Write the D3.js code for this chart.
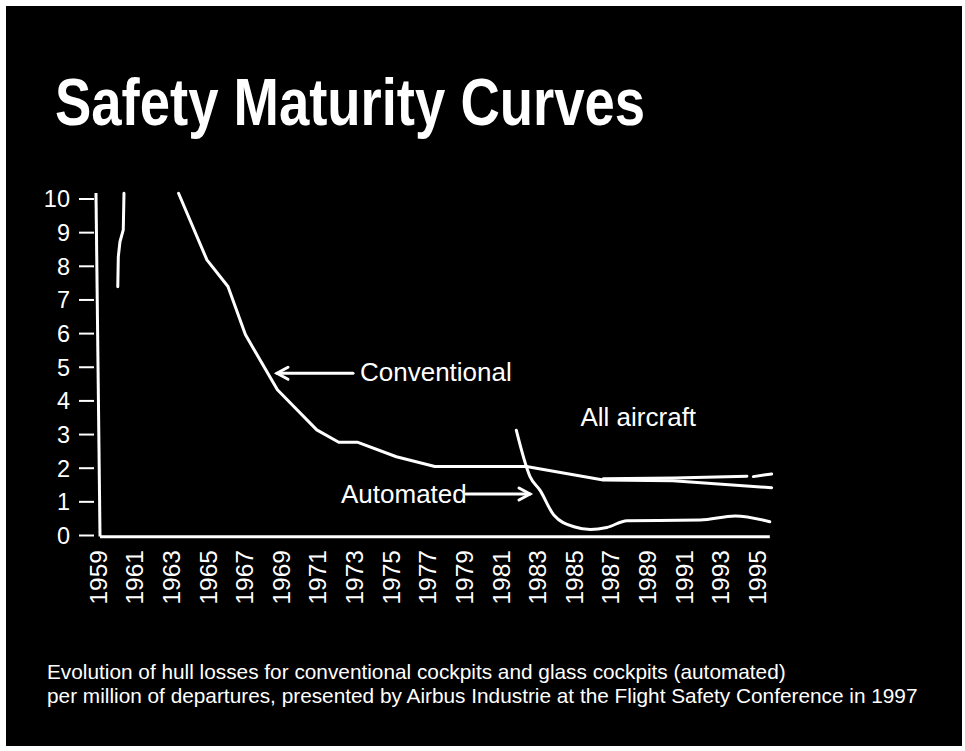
<!DOCTYPE html>
<html>
<head>
<meta charset="utf-8">
<script src="https://cdn.jsdelivr.net/npm/d3@7"></script>
<style>
  html, body { margin: 0; padding: 0; background: #ffffff; }
  svg { display: block; }
  text { fill: #ffffff; font-family: "Liberation Sans", Arial, sans-serif; }
</style>
</head>
<body>
<svg id="chart" width="965" height="751"></svg>
<script>
// ---- data ----
const xTickYears = [1959,1961,1963,1965,1967,1969,1971,1973,1975,1977,1979,1981,1983,1985,1987,1989,1991,1993,1995];
const yTickValues = [0,1,2,3,4,5,6,7,8,9,10];

const earlyYears  = [1960.08, 1960.11, 1960.2, 1960.38, 1960.42];
const earlyValues = [7.39, 8.29, 8.73, 9.08, 10.17];

const conventionalYears  = [1963.4, 1964.95, 1966.1, 1967.05, 1968.8, 1970.95, 1972.15, 1973.2, 1975.3, 1977.4, 1982.4, 1986.6, 1990.4, 1995.8];
const conventionalValues = [10.17, 8.19, 7.4, 5.97, 4.33, 3.14, 2.77, 2.77, 2.34, 2.05, 2.05, 1.65, 1.63, 1.42];

const automatedYears  = [1981.85, 1982.6, 1983.15, 1983.9, 1985.0, 1985.9, 1986.8, 1987.9, 1991.9, 1993.8, 1995.7];
const automatedValues = [3.13, 1.75, 1.34, 0.61, 0.26, 0.18, 0.24, 0.44, 0.46, 0.58, 0.41];

const allAircraftYears  = [1986.6, 1990.5, 1994.45, 1994.6, 1994.8, 1995.8];
const allAircraftValues = [1.69, 1.71, 1.76, NaN, 1.75, 1.83];

const titleText = "Safety Maturity Curves";
const captionLines = [
  "Evolution of hull losses for conventional cockpits and glass cockpits (automated)",
  "per million of departures, presented by Airbus Industrie at the Flight Safety Conference in 1997"
];

// ---- layout ----
const svg = d3.select("#chart");
svg.append("rect").attr("x", 6).attr("y", 6).attr("width", 956).attr("height", 740).attr("fill", "#000");

const x = d3.scaleLinear().domain([1959, 1995]).range([98, 757]);
const y = d3.scaleLinear().domain([0, 10]).range([535.5, 199]);

// title
svg.append("text")
  .attr("x", 55).attr("y", 125)
  .style("font-family", "'Liberation Sans Narrow', 'Arial Narrow', 'Liberation Sans', Arial, sans-serif")
  .style("font-weight", "bold")
  .style("font-size", "66px")
  .attr("textLength", 590)
  .attr("lengthAdjust", "spacingAndGlyphs")
  .text(titleText);

// y axis line (slightly slanted like the original)
svg.append("line")
  .attr("x1", x(1958.89)).attr("y1", y(10.18))
  .attr("x2", x(1959.11)).attr("y2", y(0) + 1)
  .attr("stroke", "#fff").attr("stroke-width", 3);

// x axis line
svg.append("line")
  .attr("x1", x(1959.11)).attr("y1", y(0) + 1.2)
  .attr("x2", x(1995.7)).attr("y2", y(0) + 1.2)
  .attr("stroke", "#fff").attr("stroke-width", 3);

// y ticks
const yAxisG = svg.append("g");
yAxisG.selectAll("line.tick").data(yTickValues).join("line")
  .attr("x1", 79).attr("x2", 94)
  .attr("y1", d => y(d)).attr("y2", d => y(d))
  .attr("stroke", "#fff").attr("stroke-width", 2);
yAxisG.selectAll("text").data(yTickValues).join("text")
  .attr("x", 70).attr("y", d => y(d)).attr("dy", "0.36em")
  .attr("text-anchor", "end")
  .style("font-size", "23.5px")
  .text(d => d);

// x tick labels (rotated)
svg.append("g").selectAll("text").data(xTickYears).join("text")
  .attr("transform", d => `translate(${x(d)},550) rotate(-90)`)
  .attr("text-anchor", "end")
  .attr("dy", "0.36em")
  .style("font-size", "24.5px")
  .text(d => d);

// lines
const line = d3.line()
  .defined(d => !isNaN(d[1]))
  .x(d => x(d[0])).y(d => y(d[1]));
const smooth = d3.line()
  .x(d => x(d[0])).y(d => y(d[1]))
  .curve(d3.curveMonotoneX);

function draw(years, values, gen) {
  svg.append("path")
    .datum(years.map((yr, i) => [yr, values[i]]))
    .attr("d", gen)
    .attr("fill", "none")
    .attr("stroke", "#fff")
    .attr("stroke-width", 3)
    .attr("stroke-linejoin", "round")
    .attr("stroke-linecap", "round");
}
draw(earlyYears, earlyValues, line);
draw(conventionalYears, conventionalValues, line);
draw(allAircraftYears, allAircraftValues, line);
draw(automatedYears, automatedValues, smooth);

// annotations
function arrow(x1, x2, yy) {
  const g = svg.append("g").attr("stroke", "#fff").attr("stroke-width", 3).attr("fill", "none").attr("stroke-linecap", "round");
  g.append("line").attr("x1", x1).attr("y1", yy).attr("x2", x2).attr("y2", yy);
  const dir = x2 > x1 ? -1 : 1;
  g.append("path").attr("d", `M${x2 + dir * 11},${yy - 6} L${x2},${yy} L${x2 + dir * 11},${yy + 6}`);
}
svg.append("text").attr("x", 360).attr("y", 380.5).style("font-size", "26px").text("Conventional");
arrow(353, 277, 373.3);

svg.append("text").attr("x", 341).attr("y", 503).style("font-size", "26px").text("Automated");
arrow(466, 530, 494);

svg.append("text").attr("x", 580.5).attr("y", 425.5).style("font-size", "26px").text("All aircraft");

// caption
svg.append("g").selectAll("text").data(captionLines).join("text")
  .attr("x", 47).attr("y", (d, i) => 679.3 + i * 23.4)
  .style("font-size", "20.8px")
  .text(d => d);
</script>
</body>
</html>
